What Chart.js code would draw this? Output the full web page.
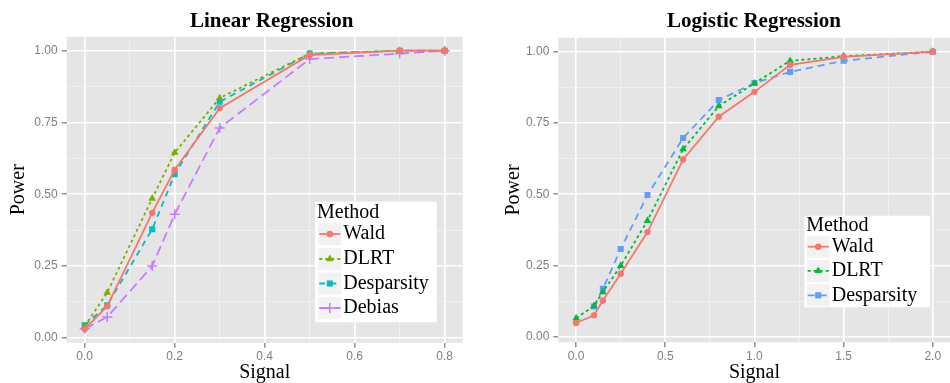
<!DOCTYPE html>
<html>
<head>
<meta charset="utf-8">
<script src="https://cdn.jsdelivr.net/npm/chart.js@4.4.0/dist/chart.umd.min.js"></script>
<style>
    html, body { margin: 0; padding: 0; background: #fff; overflow: hidden; }
    #wrap { position: relative; width: 950px; height: 383px; }
    .pane { position: absolute; top: 0; height: 383px; }
</style>
</head>
<body>
<div id="wrap">
    <div class="pane" style="left:0;width:475px"><canvas id="linChart" width="475" height="383"></canvas></div>
    <div class="pane" style="left:475px;width:480px"><canvas id="logChart" width="480" height="383"></canvas></div>
</div>
<script>
// ---- dados ----
const linSignal = [0, 0.05, 0.15, 0.2, 0.3, 0.5, 0.7, 0.8];
const linWald = [0.03, 0.11, 0.435, 0.585, 0.80, 0.985, 1.0, 1.0];
const linDLRT = [0.04, 0.157, 0.485, 0.645, 0.835, 0.99, 1.0, 1.0];
const linDesparsity = [0.043, 0.113, 0.378, 0.57, 0.822, 0.99, 1.0, 1.0];
const linDebias = [0.031, 0.072, 0.25, 0.43, 0.731, 0.971, 0.99, 1.0];

const logSignal = [0, 0.1, 0.15, 0.25, 0.4, 0.6, 0.8, 1.0, 1.2, 1.5, 2.0];
const logWald = [0.048, 0.075, 0.127, 0.221, 0.367, 0.622, 0.772, 0.859, 0.954, 0.982, 1.0];
const logDLRT = [0.065, 0.108, 0.157, 0.249, 0.407, 0.658, 0.809, 0.889, 0.968, 0.984, 1.0];
const logDesparsity = [null, 0.106, 0.168, 0.308, 0.497, 0.697, 0.83, 0.89, 0.929, 0.968, 1.0];

const powerTicks = [0, 0.25, 0.5, 0.75, 1];
const linSignalTicks = [0, 0.2, 0.4, 0.6, 0.8];
const logSignalTicks = [0, 0.5, 1, 1.5, 2];

const SERIF = '"Liberation Serif", "Times New Roman", serif';
const SANS = '"Liberation Sans", Arial, sans-serif';

// major + minor (meio) como no ggplot
function withMinor(major) {
    const out = [];
    major.forEach((v, i) => {
        out.push({ value: v });
        if (i < major.length - 1) out.push({ value: (v + major[i + 1]) / 2, minor: true });
    });
    return out;
}

function serie(label, xs, ys, color, dash, style, radius) {
    return {
        label: label,
        data: xs.map((x, i) => ({ x: x, y: ys[i] })),
        borderColor: color,
        backgroundColor: color,
        borderWidth: 1.8,
        borderDash: dash,
        pointStyle: style,
        pointRadius: radius,
        pointHoverRadius: radius,
        pointBorderWidth: style === 'cross' ? 1.5 : 0,
        pointBackgroundColor: color,
        pointBorderColor: color,
        tension: 0,
        fill: false,
        spanGaps: false
    };
}

const panelBg = {
    id: 'panelBg',
    beforeDraw(chart) {
        const { ctx, chartArea: a } = chart;
        ctx.save();
        ctx.fillStyle = '#E5E5E5';
        ctx.fillRect(a.left, a.top, a.right - a.left, a.bottom - a.top);
        ctx.restore();
    }
};

const ggTitle = {
    id: 'ggTitle',
    afterDraw(chart, args, opts) {
        const ctx = chart.ctx;
        ctx.save();
        ctx.font = 'bold 21px ' + SERIF;
        ctx.fillStyle = '#000';
        ctx.textAlign = 'center';
        ctx.textBaseline = 'alphabetic';
        ctx.fillText(opts.text, opts.x, opts.y);
        ctx.restore();
    }
};

const ggLegend = {
    id: 'ggLegend',
    afterDraw(chart, args, opts) {
        const ctx = chart.ctx;
        ctx.save();
        ctx.fillStyle = '#fff';
        ctx.fillRect(opts.x, opts.y, opts.w, opts.h);
        ctx.font = '20px ' + SERIF;
        ctx.fillStyle = '#000';
        ctx.textAlign = 'left';
        ctx.textBaseline = 'middle';
        ctx.fillText('Method', opts.x + 2, opts.titleY);
        chart.data.datasets.forEach((ds, i) => {
            const cy = opts.rows[i];
            const kx = opts.keyX;
            ctx.fillStyle = '#F2F2F2';
            ctx.fillRect(kx, cy - 11, 23, 22);
            ctx.strokeStyle = ds.borderColor;
            ctx.lineWidth = ds.borderWidth;
            ctx.setLineDash(ds.borderDash || []);
            ctx.beginPath();
            ctx.moveTo(kx + 1, cy);
            ctx.lineTo(kx + 22, cy);
            ctx.stroke();
            ctx.setLineDash([]);
            ctx.fillStyle = ds.pointBackgroundColor;
            ctx.strokeStyle = ds.pointBorderColor;
            ctx.lineWidth = ds.pointBorderWidth;
            Chart.helpers.drawPoint(ctx, {
                pointStyle: ds.pointStyle, radius: ds.pointRadius,
                borderWidth: ds.pointBorderWidth, rotation: 0
            }, kx + 11.5, cy);
            ctx.fillStyle = '#000';
            ctx.fillText(ds.label, kx + 25, cy);
        });
        ctx.restore();
    }
};

function eixos(xMajor, xMin, xMax, xDigits, yMin, yMax, yWidth, xHeight, yTitlePad) {
    const gridColor = c => (c.tick && c.tick.minor) ? '#F2F2F2' : '#FFFFFF';
    const gridWidth = c => (c.tick && c.tick.minor) ? 0.8 : 1.6;
    const tickColor = c => (c.tick && c.tick.minor) ? 'rgba(0,0,0,0)' : '#7F7F7F';
    return {
        x: {
            type: 'linear',
            min: xMin,
            max: xMax,
            afterBuildTicks: s => { s.ticks = withMinor(xMajor); },
            afterFit: s => { s.height = xHeight; },
            border: { display: false },
            grid: { color: gridColor, lineWidth: gridWidth, tickColor: tickColor, tickLength: 5, tickWidth: 1.3 },
            ticks: {
                autoSkip: false, maxRotation: 0, padding: 2,
                color: '#7F7F7F', font: { family: SANS, size: 12 },
                callback: (v, i, t) => t[i].minor ? '' : Number(v).toFixed(xDigits)
            },
            title: { display: true, text: 'Signal', color: '#000', font: { family: SERIF, size: 20, lineHeight: 1 }, padding: { top: 0, bottom: 0 } }
        },
        y: {
            type: 'linear',
            min: yMin,
            max: yMax,
            afterBuildTicks: s => { s.ticks = withMinor(powerTicks); },
            afterFit: s => { s.width = yWidth; },
            border: { display: false },
            grid: { color: gridColor, lineWidth: gridWidth, tickColor: tickColor, tickLength: 5, tickWidth: 1.3 },
            ticks: {
                autoSkip: false, padding: 4,
                color: '#7F7F7F', font: { family: SANS, size: 12 },
                callback: (v, i, t) => t[i].minor ? '' : Number(v).toFixed(2)
            },
            title: { display: true, text: 'Power', color: '#000', font: { family: SERIF, size: 20 }, padding: { top: yTitlePad, bottom: 0 } }
        }
    };
}

new Chart(document.getElementById('linChart'), {
    type: 'line',
    data: {
        datasets: [
            serie('Wald', linSignal, linWald, '#F8766D', [], 'circle', 3.2),
            serie('DLRT', linSignal, linDLRT, '#7CAE00', [3, 3], 'triangle', 4.4),
            serie('Desparsity', linSignal, linDesparsity, '#00BFC4', [6, 5], 'rect', 4.3),
            serie('Debias', linSignal, linDebias, '#C77CFF', [10, 5], 'cross', 5)
        ]
    },
    options: {
        responsive: false,
        animation: false,
        events: [],
        layout: { padding: { top: 36.7, right: 12.3, left: 0, bottom: 0 } },
        scales: eixos(linSignalTicks, -0.04, 0.84, 1, -0.0174, 1.0488, 66.7, 40.3, 7),
        plugins: {
            legend: { display: false },
            tooltip: { enabled: false },
            ggTitle: { text: 'Linear Regression', x: 271.7, y: 26.7 },
            ggLegend: { x: 315, y: 201.7, w: 121.7, h: 120.6, titleY: 213, keyX: 318.3, rows: [234, 259, 283.5, 308] }
        }
    },
    plugins: [panelBg, ggTitle, ggLegend]
});

new Chart(document.getElementById('logChart'), {
    type: 'line',
    data: {
        datasets: [
            serie('Wald', logSignal, logWald, '#F8766D', [], 'circle', 3.2),
            serie('DLRT', logSignal, logDLRT, '#00BA38', [3, 3], 'triangle', 4.4),
            serie('Desparsity', logSignal, logDesparsity, '#619CFF', [7, 5], 'rect', 4.3)
        ]
    },
    options: {
        responsive: false,
        animation: false,
        events: [],
        layout: { padding: { top: 37.7, right: 3.1, left: 0, bottom: 0 } },
        scales: eixos(logSignalTicks, -0.1, 2.1, 1, -0.0196, 1.049, 83.3, 40.7, 27),
        plugins: {
            legend: { display: false },
            tooltip: { enabled: false },
            ggTitle: { text: 'Logistic Regression', x: 279, y: 26.7 },
            ggLegend: { x: 329.3, y: 215.7, w: 125.7, h: 91.6, titleY: 225.5, keyX: 331.7, rows: [246.7, 270.8, 295.3] }
        }
    },
    plugins: [panelBg, ggTitle, ggLegend]
});
</script>
</body>
</html>
